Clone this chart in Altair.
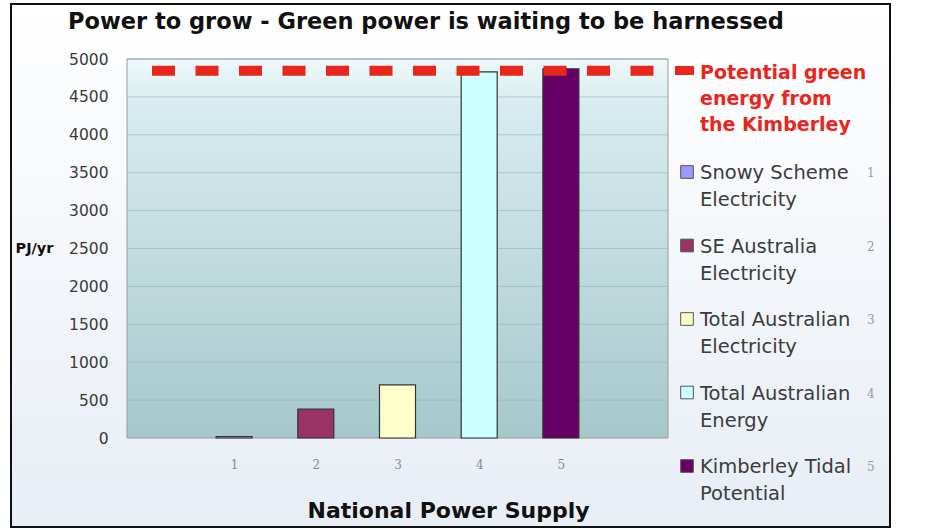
import altair as alt
import pandas as pd

# ---------------- data ----------------
title_text = "Power to grow - Green power is waiting to be harnessed"
positions = [1, 2, 3, 4, 5]
sources = [
    "Snowy Scheme\nElectricity",
    "SE Australia\nElectricity",
    "Total Australian\nElectricity",
    "Total Australian\nEnergy",
    "Kimberley Tidal\nPotential",
]
values = [20, 380, 700, 4830, 4870]
colors = ["#9999ff", "#993366", "#ffffcc", "#ccffff", "#660066"]
potential_label = "Potential green\nenergy from\nthe Kimberley"
potential_value = 4845
y_ticks = [0, 500, 1000, 1500, 2000, 2500, 3000, 3500, 4000, 4500, 5000]
x_ticks = [1, 2, 3, 4, 5]
x_title = "National Power Supply"
y_title = "PJ/yr"

# ---------------- layout ----------------
W, H = 541, 379
LEFT, TOP = 127, 59
RED = "#e8261c"
FONT = "DejaVu Sans"

bars_df = pd.DataFrame({
    "pos": positions,
    "source": sources,
    "value": values,
    "num": [str(p) for p in positions],
})
one = pd.DataFrame({"k": [0]})

yscale = alt.Scale(domain=[0, 5000], nice=False, zero=True)
fill_scale = alt.Scale(domain=sources, range=colors)

frame = alt.Chart(one).mark_rect(
    fill=alt.LinearGradient(
        gradient="linear",
        stops=[alt.GradientStop(offset=0, color="#ffffff"),
               alt.GradientStop(offset=1, color="#e8eef6")],
        x1=0, x2=0, y1=0, y2=1),
    stroke="#111111", strokeWidth=2,
).encode(x=alt.value(11 - LEFT), x2=alt.value(890 - LEFT),
         y=alt.value(4 - TOP), y2=alt.value(527 - TOP))

title = alt.Chart(pd.DataFrame({"t": [title_text]})).mark_text(
    align="left", baseline="middle", font=FONT, fontSize=22.5,
    fontWeight="bold", color="#111111",
).encode(x=alt.value(68 - LEFT), y=alt.value(22 - TOP), text="t:N")

plotbg = alt.Chart(one).mark_rect(
    fill=alt.LinearGradient(
        gradient="linear",
        stops=[alt.GradientStop(offset=0, color="#eef9fa"),
               alt.GradientStop(offset=0.12, color="#d8ecef"),
               alt.GradientStop(offset=1, color="#a6c8cb")],
        x1=0, x2=0, y1=0, y2=1),
    stroke="#9a9a9a", strokeWidth=1,
).encode(x=alt.value(0), x2=alt.value(W), y=alt.value(0), y2=alt.value(H))

grid = alt.Chart(pd.DataFrame({"t": y_ticks[1:]})).mark_rule(
    color="#8fb0b4", strokeWidth=1, opacity=0.55
).encode(y=alt.Y("t:Q", scale=yscale, axis=None))

bars = alt.Chart(bars_df).mark_bar(size=36, stroke="#333333", strokeWidth=1.2).encode(
    x=alt.X("pos:Q",
            scale=alt.Scale(domain=[-0.25, 6.25], nice=False, zero=False),
            axis=alt.Axis(values=x_ticks, title=x_title, grid=False, domain=False,
                          ticks=False, labelFont="DejaVu Serif", labelFontSize=12,
                          labelColor="#8a8a8a", labelPadding=21, zindex=1,
                          titleFont=FONT, titleFontSize=22, titleFontWeight="bold",
                          titleColor="#111111", titleX=321, titleY=72,
                          titleAlign="center", titleBaseline="middle")),
    y=alt.Y("value:Q", scale=yscale,
            axis=alt.Axis(values=y_ticks, format="d", title=y_title, grid=False,
                          domain=False, ticks=False, labelFont=FONT, labelFontSize=15.5,
                          labelColor="#3a3a3a", labelPadding=19, zindex=1,
                          titleFont=FONT, titleFontSize=14.5, titleFontWeight="bold",
                          titleColor="#111111", titleAngle=0, titleAlign="left",
                          titleBaseline="middle", titleX=15 - LEFT, titleY=189)),
    fill=alt.Fill("source:N", scale=fill_scale, legend=None),
)

rule = alt.Chart(pd.DataFrame({"v": [potential_value]})).mark_rule(
    color=RED, strokeWidth=10, strokeDash=[23, 20.5], strokeCap="butt"
).encode(y=alt.Y("v:Q", scale=yscale, axis=None),
         x=alt.value(25), x2=alt.value(527))

red_sym = alt.Chart(one).mark_rect(fill=RED).encode(
    x=alt.value(548), x2=alt.value(567), y=alt.value(7), y2=alt.value(16))

red_txt = alt.Chart(pd.DataFrame({"t": [potential_label]})).mark_text(
    align="left", baseline="alphabetic", lineBreak="\n", lineHeight=26,
    font=FONT, fontWeight="bold", fontSize=19, color=RED, dy=7,
).encode(x=alt.value(573), y=alt.value(13), text="t:N")

leg_y = alt.Y("source:N", scale=alt.Scale(type="point", domain=sources,
                                          range=[113, 407], padding=0), axis=None)

squares = alt.Chart(bars_df).mark_square(size=160, stroke="#555555", strokeWidth=1,
                                          opacity=1).encode(
    x=alt.value(560), y=leg_y,
    fill=alt.Fill("source:N", scale=fill_scale, legend=None))

leg_text = alt.Chart(bars_df).mark_text(
    align="left", baseline="alphabetic", lineBreak="\n", lineHeight=27,
    font=FONT, fontSize=19.5, color="#3c3c3c", dy=7,
).encode(x=alt.value(573), y=leg_y, text="source:N")

nums = alt.Chart(bars_df).mark_text(
    align="left", baseline="alphabetic", font="DejaVu Serif", fontSize=12,
    color="#9a9a9a", dy=5,
).encode(x=alt.value(740), y=leg_y, text="num:N")

chart = alt.layer(
    frame, title, plotbg, grid, bars, rule, red_sym, red_txt, squares, leg_text, nums
).resolve_scale(y="independent").properties(
    width=W, height=H,
    padding={"left": LEFT, "top": TOP, "right": 926 - LEFT - W,
             "bottom": 530 - TOP - H},
    autosize=alt.AutoSizeParams(type="none"),
).configure_view(stroke=None)

chart.save("out.html", embed_options={"renderer": "svg", "actions": False})
